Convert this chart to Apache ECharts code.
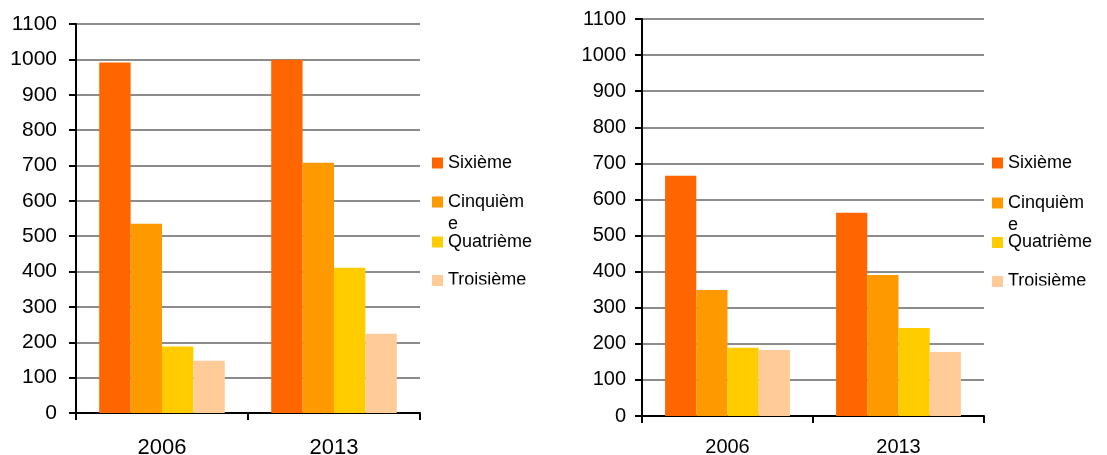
<!DOCTYPE html>
<html>
<head>
<meta charset="utf-8">
<script src="https://cdn.jsdelivr.net/npm/echarts@6/dist/echarts.min.js"></script>
<style>
html,body{margin:0;padding:0;background:#fff;}
#c{width:1107px;height:455px;}
</style>
</head>
<body>
<div id="c"></div>
<script>
const categories = ['2006', '2013'];
const levels = ['Sixième', 'Cinquième', 'Quatrième', 'Troisième'];
const legendLabels = ['Sixième', 'Cinquièm\ne', 'Quatrième', 'Troisième'];
const colors = ['#FF6600', '#FF9900', '#FFCC00', '#FFCC99'];
// Left chart values [2006, 2013]
const leftSixieme = [991, 999];
const leftCinquieme = [535, 708];
const leftQuatrieme = [188, 411];
const leftTroisieme = [148, 224];
// Right chart values [2006, 2013]
const rightSixieme = [666, 563];
const rightCinquieme = [349, 391];
const rightQuatrieme = [189, 244];
const rightTroisieme = [183, 177];
const yTicks = [0, 100, 200, 300, 400, 500, 600, 700, 800, 900, 1000, 1100];

const leftData = [leftSixieme, leftCinquieme, leftQuatrieme, leftTroisieme];
const rightData = [rightSixieme, rightCinquieme, rightQuatrieme, rightTroisieme];

const FONT = 'Liberation Sans, Arial, sans-serif';

function xAxis(gi, fs, margin) {
  return {
    type: 'category', gridIndex: gi, data: categories,
    axisLine: {lineStyle: {color: '#000', width: 2}},
    axisTick: {show: true, length: 7, lineStyle: {color: '#000', width: 2}},
    axisLabel: {color: '#000', fontSize: fs, fontFamily: FONT, margin: margin}
  };
}
function yAxis(gi, fs, margin) {
  return {
    type: 'value', gridIndex: gi, min: yTicks[0], max: yTicks[yTicks.length - 1], interval: 100,
    axisLine: {show: true, lineStyle: {color: '#000', width: 2}},
    axisTick: {show: true, length: 7, lineStyle: {color: '#000', width: 2}},
    axisLabel: {color: '#000', fontSize: fs, fontFamily: FONT, margin: margin,
      formatter: v => String(v)},
    splitLine: {show: true, lineStyle: {color: '#8c8c8c', width: 2}}
  };
}

const series = [];
[leftData, rightData].forEach((dataSet, gi) => {
  dataSet.forEach((vals, i) => {
    series.push({
      type: 'bar', name: levels[i], xAxisIndex: gi, yAxisIndex: gi,
      data: vals, barGap: '0%', barCategoryGap: '27%',
      itemStyle: {color: colors[i]}, z: 1
    });
  });
});

const legendCenters = [[163, 202, 242, 280.5], [163, 203, 242.5, 281.5]];
const legendLeft = [432, 992];
const legends = [];
[0, 1].forEach(gi => {
  levels.forEach((name, i) => {
    const multi = legendLabels[i].indexOf('\n') >= 0;
    const lh = multi ? 22 : 20;
    const blockH = multi ? lh * 3 : lh;
    legends.push({
      data: [name], left: legendLeft[gi], top: legendCenters[gi][i] - blockH / 2,
      orient: 'vertical', padding: 0, icon: 'rect', itemWidth: 11, itemHeight: 11,
      formatter: () => (multi ? ' \n' : '') + legendLabels[i],
      textStyle: {fontSize: 18, fontFamily: FONT, color: '#000', lineHeight: lh}
    });
  });
});

const chart = echarts.init(document.getElementById('c'));
chart.setOption({
  animation: false,
  backgroundColor: '#fff',
  grid: [
    {left: 76, top: 24, width: 344, height: 389, containLabel: false, outerBoundsMode: 'none'},
    {left: 642, top: 19, width: 342, height: 397, containLabel: false, outerBoundsMode: 'none'}
  ],
  xAxis: [xAxis(0, 22, 24), xAxis(1, 20, 21)],
  yAxis: [yAxis(0, 21, 19), yAxis(1, 20, 16)],
  legend: legends,
  series: series,
  graphic: [
    {type: 'rect', left: 446, top: 284.5, shape: {width: 120, height: 12}, style: {fill: '#fff'}, z: 100},
    {type: 'rect', left: 1006, top: 285.5, shape: {width: 101, height: 12}, style: {fill: '#fff'}, z: 100}
  ]
});
</script>
</body>
</html>
